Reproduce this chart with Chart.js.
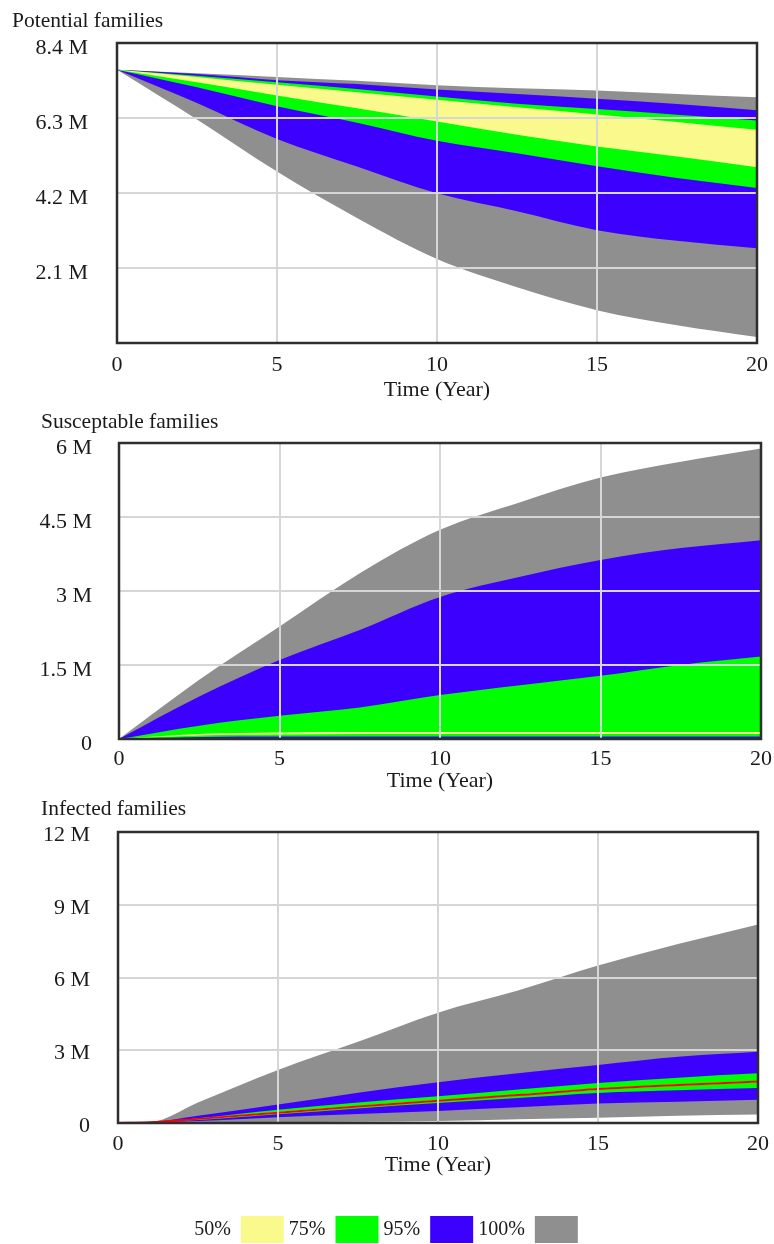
<!DOCTYPE html>
<html><head><meta charset="utf-8">
<script src="https://cdn.jsdelivr.net/npm/chart.js@4.4.1/dist/chart.umd.min.js"></script>
<style>
html,body{margin:0;padding:0;background:#fff;overflow:hidden;width:774px;height:1244px;}
canvas{position:absolute;left:0;}
.ttl{position:absolute;font-family:'Liberation Serif','Times New Roman',serif;font-size:21.5px;line-height:24px;color:#1a1a1a;white-space:nowrap;z-index:2;}
</style></head><body>
<div class="ttl" style="left:12px;top:8px">Potential families</div>
<div class="ttl" style="left:41px;top:409px">Susceptable families</div>
<div class="ttl" style="left:41px;top:796px">Infected families</div>
<canvas id="c1" style="top:0px" width="774" height="405"></canvas>
<canvas id="c2" style="top:400px" width="774" height="395"></canvas>
<canvas id="c3" style="top:795px" width="774" height="458"></canvas>
<script>
// ---------- data (values in millions) ----------
const years = [0, 2.5, 5, 7.5, 10, 12.5, 15, 17.5, 20];
const yearsInf = [0, 1, 2.5, 5, 7.5, 10, 12.5, 15, 17.5, 20];
const xTicks = [0, 5, 10, 15, 20];
const xTitle = 'Time (Year)';
const bandLabels = ['50%', '75%', '95%', '100%'];
const bandColors = ['#FAFA8C', '#00FF00', '#3C00FF', '#8F8F8F'];

// Potential families
const potMax  = [7.65, 7.55, 7.45, 7.34, 7.22, 7.13, 7.07, 6.97, 6.88];
const potHi95 = [7.65, 7.53, 7.36, 7.25, 7.10, 6.97, 6.84, 6.69, 6.52];
const potHi75 = [7.65, 7.48, 7.30, 7.11, 6.90, 6.70, 6.55, 6.39, 6.23];
const potHi50 = [7.65, 7.45, 7.23, 7.02, 6.81, 6.60, 6.40, 6.19, 5.97];
const potLo50 = [7.65, 7.30, 6.93, 6.57, 6.20, 5.83, 5.50, 5.22, 4.92];
const potLo75 = [7.65, 7.16, 6.63, 6.17, 5.66, 5.31, 4.95, 4.62, 4.34];
const potLo95 = [7.65, 6.72, 5.71, 4.94, 4.19, 3.69, 3.16, 2.86, 2.65];
const potMin  = [7.65, 6.26, 4.80, 3.50, 2.35, 1.56, 0.92, 0.50, 0.17];
const potTicks  = [0, 2.1, 4.2, 6.3, 8.4];
const potLabels = ['', '2.1 M', '4.2 M', '6.3 M', '8.4 M'];

// Susceptable families
const susMax  = [0, 1.20, 2.28, 3.36, 4.24, 4.80, 5.30, 5.62, 5.89];
const susHi95 = [0, 0.86, 1.60, 2.21, 2.88, 3.29, 3.63, 3.87, 4.03];
const susHi75 = [0, 0.27, 0.47, 0.64, 0.89, 1.09, 1.28, 1.50, 1.67];
const susHi50 = [0, 0.10, 0.13, 0.14, 0.14, 0.14, 0.14, 0.14, 0.14];
const susLo50 = [0, 0.07, 0.09, 0.10, 0.10, 0.10, 0.10, 0.10, 0.10];
const susLo75 = [0, 0.04, 0.05, 0.05, 0.05, 0.05, 0.05, 0.05, 0.05];
const susLo95 = [0, 0.02, 0.02, 0.02, 0.02, 0.02, 0.02, 0.02, 0.02];
const susMin  = [0, 0, 0, 0, 0, 0, 0, 0, 0];
const susTicks  = [0, 1.5, 3, 4.5, 6];
const susLabels = ['0', '1.5 M', '3 M', '4.5 M', '6 M'];

// Infected families
const infMax  = [0.02, 0.04, 0.85, 2.19, 3.35, 4.55, 5.46, 6.49, 7.38, 8.19];
const infHi95 = [0.02, 0.04, 0.30, 0.76, 1.25, 1.68, 2.05, 2.39, 2.73, 2.94];
const infHi75 = [0.02, 0.03, 0.20, 0.55, 0.85, 1.10, 1.38, 1.65, 1.87, 2.05];
const infHi50 = [0.02, 0.04, 0.19, 0.45, 0.71, 0.95, 1.18, 1.43, 1.60, 1.74];
const infLo50 = [0.02, 0.03, 0.15, 0.39, 0.65, 0.89, 1.12, 1.37, 1.54, 1.68];
const infLo75 = [0.02, 0.03, 0.12, 0.36, 0.60, 0.82, 1.03, 1.24, 1.35, 1.44];
const infLo95 = [0.02, 0.03, 0.08, 0.24, 0.37, 0.50, 0.65, 0.80, 0.88, 0.96];
const infMin  = [0.02, 0.02, 0.02, 0.03, 0.05, 0.08, 0.15, 0.22, 0.30, 0.35];
const infBase = [0.00, 0.03, 0.17, 0.42, 0.68, 0.92, 1.15, 1.40, 1.57, 1.71];
const infTicks  = [0, 3, 6, 9, 12];
const infLabels = ['0', '3 M', '6 M', '9 M', '12 M'];

// ---------- chart building ----------
const FONT = {family: "'Liberation Serif','Times New Roman',serif", size: 22};
const LEGEND_FONT = {family: "'Liberation Serif','Times New Roman',serif", size: 20};
const TXT = '#1a1a1a';
const GRID = '#d6d6d6';

const framePlugin = {
  id: 'frame',
  afterDraw(chart) {
    const {ctx, chartArea: a} = chart;
    ctx.save();
    ctx.strokeStyle = '#2e2e2e';
    ctx.lineWidth = 2.5;
    ctx.strokeRect(a.left, a.top, a.right - a.left, a.bottom - a.top);
    ctx.restore();
  }
};

function pts(xs, ys) { return xs.map((x, i) => ({x: x, y: ys[i]})); }

function makePanel(id, xs, bands, base, yTicks, yLabels, L, showLegend) {
  const ds = [];
  if (base) {
    ds.push({label: 'base', data: pts(xs, base), borderColor: '#FF0000', borderWidth: 2,
             pointRadius: 0, fill: false, cubicInterpolationMode: 'monotone'});
  }
  bands.forEach((b, k) => {
    ds.push({label: bandLabels[k] + ' hi', data: pts(xs, b[0]), borderColor: 'rgba(0,0,0,0)', borderWidth: 0,
             pointRadius: 0, backgroundColor: bandColors[k], fill: '+1', cubicInterpolationMode: 'monotone'});
    ds.push({label: bandLabels[k] + ' lo', data: pts(xs, b[1]), borderColor: 'rgba(0,0,0,0)', borderWidth: 0,
             pointRadius: 0, fill: false, cubicInterpolationMode: 'monotone'});
  });
  const legendOrder = [3, 2, 1, 0];
  return new Chart(document.getElementById(id), {
    type: 'line',
    data: {datasets: ds},
    options: {
      responsive: false, animation: false, devicePixelRatio: 1, events: [],
      layout: {padding: L.pad},
      plugins: {
        tooltip: {enabled: false},
        title: {display: false},
        legend: {
          display: !!showLegend, position: 'bottom', align: 'center', rtl: true, textDirection: 'ltr',
          onClick: null,
          labels: {
            boxWidth: 43, boxHeight: 27, padding: 5, font: LEGEND_FONT, color: TXT,
            generateLabels: () => legendOrder.map(k => ({
              text: bandLabels[k], fillStyle: bandColors[k], strokeStyle: bandColors[k],
              lineWidth: 0, hidden: false, fontColor: TXT
            }))
          }
        }
      },
      scales: {
        x: {
          type: 'linear', min: 0, max: 20, z: 1,
          border: {display: false},
          grid: {color: GRID, lineWidth: 2, drawTicks: false, z: 1},
          afterBuildTicks: s => { s.ticks = xTicks.map(v => ({value: v})); },
          afterFit: s => { s.height = L.xH; s.paddingLeft = 0; s.paddingRight = 0; },
          ticks: {padding: L.xPad, font: FONT, color: TXT, maxRotation: 0, autoSkip: false,
                  callback: (v) => String(v)},
          title: {display: true, text: xTitle, font: FONT, color: TXT, padding: {top: 0, bottom: L.tPad}}
        },
        y: {
          type: 'linear', min: yTicks[0], max: yTicks[yTicks.length - 1], z: 1,
          border: {display: false},
          grid: {color: GRID, lineWidth: 2, drawTicks: false, z: 1},
          afterBuildTicks: s => { s.ticks = yTicks.map(v => ({value: v})); },
          afterFit: s => { s.width = L.yW; s.paddingTop = 0; s.paddingBottom = 0; },
          ticks: {padding: L.yPad, labelOffset: L.lOff, font: FONT, color: TXT,
                  callback: (v, i) => yLabels[i]}
        }
      }
    },
    plugins: [framePlugin]
  });
}

makePanel('c1', years,
  [[potHi50, potLo50], [potHi75, potLo75], [potHi95, potLo95], [potMax, potMin]], null,
  potTicks, potLabels,
  {pad: {top: 43, left: 14, right: 17, bottom: 0}, yW: 103, xH: 62, xPad: 9, tPad: 2, yPad: 29, lOff: 5});

makePanel('c2', years,
  [[susHi50, susLo50], [susHi75, susLo75], [susHi95, susLo95], [susMax, susMin]], null,
  susTicks, susLabels,
  {pad: {top: 43, left: 14, right: 13, bottom: 0}, yW: 105, xH: 56, xPad: 7, tPad: 1, yPad: 27, lOff: 5});

makePanel('c3', yearsInf,
  [[infHi50, infLo50], [infHi75, infLo75], [infHi95, infLo95], [infMax, infMin]], infBase,
  infTicks, infLabels,
  {pad: {top: 37, left: 14, right: 16, bottom: 0}, yW: 104, xH: 88, xPad: 8, tPad: 33, yPad: 28, lOff: 3}, true);
</script>
</body></html>
